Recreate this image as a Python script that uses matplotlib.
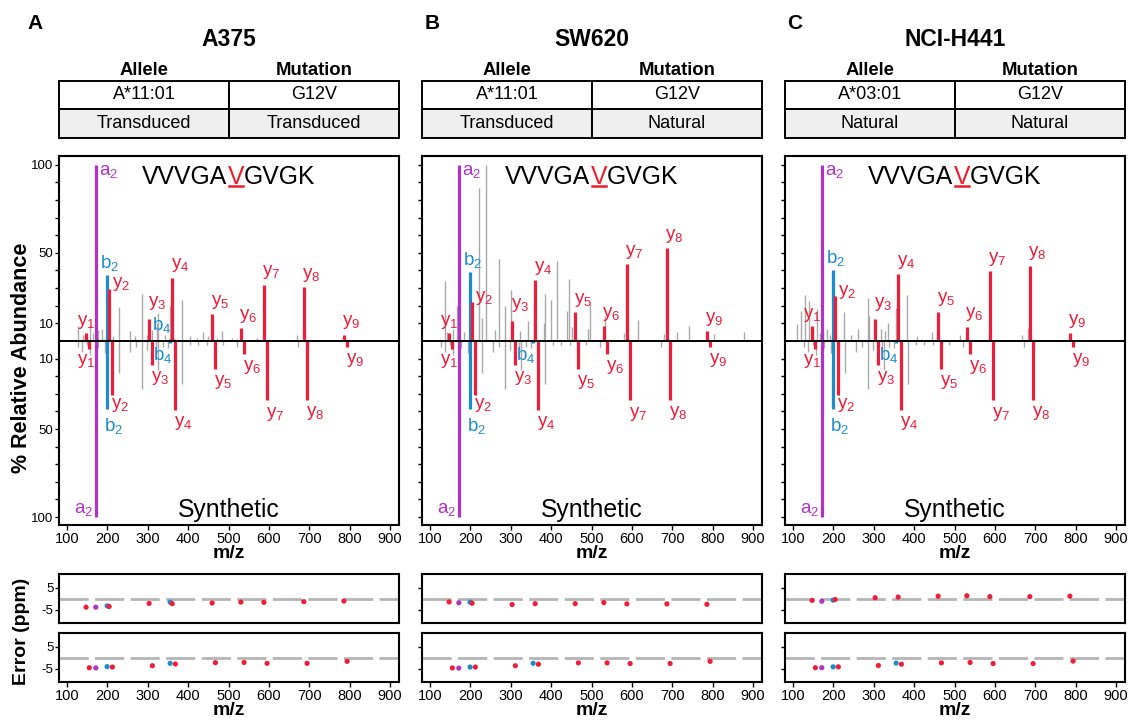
import numpy as np
import matplotlib
matplotlib.use("Agg")
import matplotlib.pyplot as plt
from matplotlib.lines import Line2D
from matplotlib.offsetbox import TextArea, HPacker, AnnotationBbox

plt.rcParams["font.family"] = ["Liberation Sans", "DejaVu Sans"]
plt.rcParams["mathtext.fontset"] = "custom"
plt.rcParams["mathtext.rm"] = "Liberation Sans"
plt.rcParams["mathtext.it"] = "Liberation Sans:italic"
plt.rcParams["mathtext.bf"] = "Liberation Sans:bold"
plt.rcParams["axes.unicode_minus"] = False

# ---- panel info ----
panel_letters = ["A", "B", "C"]
cell_lines = ["A375", "SW620", "NCI-H441"]
alleles = ["A*11:01", "A*11:01", "A*03:01"]
mutations = ["G12V", "G12V", "G12V"]
allele_source = ["Transduced", "Transduced", "Natural"]
mutation_source = ["Transduced", "Natural", "Natural"]
peptide = "VVVGAVGVGK"
mut_pos = 5

# ---- annotated fragment ions ----
ion_names = ["y1", "a2", "b2", "y2", "y3", "b4", "y4", "y5", "y6", "y7", "y8", "y9"]
ion_mz_endo = [147.113, 171.149, 199.144, 204.134, 303.203, 355.233,
               360.224, 459.293, 530.330, 587.351, 686.420, 785.488]
# synthetic peptide carries heavy lysine (+8 on y ions)
ion_mz_syn = [155.127, 171.149, 199.144, 212.148, 311.217, 355.233,
              368.238, 467.307, 538.344, 595.365, 694.434, 793.502]

int_a375 = [4.5, 100, 37.6, 29.7, 12.7, 1.2, 36.0, 15.1, 7.2, 32.0, 30.4, 3.6]
int_sw620 = [4.4, 100, 39.0, 22.2, 11.6, np.nan, 34.5, 16.3, 8.3, 43.5, 52.6, 5.5]
int_h441 = [8.7, 100, 40.3, 25.5, 12.5, np.nan, 37.8, 16.5, 8.0, 39.7, 42.6, 4.4]
int_syn = [4.7, 100, 38.4, 30.6, 13.4, 1.0, 39.0, 16.0, 7.6, 33.8, 33.6, 3.2]

# ---- unannotated peaks ----
gray_mz_a375 = [128.1, 140.5, 157.0, 163.6, 177.6, 185.9, 214.7, 228.8, 256.0, 268.4,
                284.9, 297.2, 309.6, 322.0, 326.1, 342.6, 355.8, 364.9, 385.5, 404.5,
                421.0, 437.5, 449.9, 470.5, 482.9, 507.6, 520.0, 569.5, 668.5, 688.5, 784.0]
gray_int_a375 = [8.3, 3.6, 9.3, 4.5, 6.4, 7.0, 2.6, 19.3, 5.9, 2.6,
                 26.8, 3.6, 6.4, 10.2, 15.9, 3.6, 19.7, 1.7, 23.4, 2.6,
                 1.7, 4.9, 2.6, 1.7, 5.5, 1.7, 1.3, 1.7, 3.6, 4.5, 1.7]

gray_mz_sw620 = [136.3, 141.0, 156.1, 166.9, 183.4, 222.2, 228.8, 238.7, 261.8, 270.8,
                 284.9, 299.7, 323.6, 342.6, 356.6, 381.4, 384.7, 399.5, 415.2, 439.2,
                 443.3, 451.5, 491.1, 496.9, 532.4, 579.4, 614.9, 678.4, 712.3, 741.9,
                 802.2, 876.4]
gray_int_sw620 = [34.3, 5.0, 6.5, 19.7, 4.9, 87.1, 13.1, 99.8, 6.1, 46.3,
                  19.7, 28.7, 5.5, 11.6, 22.6, 10.2, 26.4, 23.1, 45.2, 16.9,
                  34.9, 8.0, 6.5, 21.3, 14.0, 4.6, 11.8, 4.2, 4.9, 8.7,
                  4.2, 4.9]

gray_mz_h441 = [110.8, 119.8, 129.7, 140.5, 150.4, 158.6, 166.9, 175.1, 185.0, 191.6,
                227.1, 242.8, 261.8, 284.9, 289.0, 317.9, 327.8, 336.0, 355.0, 383.0,
                406.1, 443.3, 455.7, 513.4, 586.0, 666.0, 682.5]
gray_int_h441 = [9.9, 16.9, 26.2, 22.6, 6.5, 17.9, 4.4, 5.5, 6.8, 3.6,
                 16.5, 3.6, 6.5, 24.1, 14.1, 6.5, 5.5, 10.3, 18.8, 25.9,
                 2.7, 4.9, 4.9, 3.6, 6.1, 3.6, 7.4]

gray_mz_syn = [128.1, 136.3, 148.7, 157.0, 177.6, 194.1, 214.7, 228.8, 256.0, 270.8,
               284.9, 297.2, 320.3, 326.1, 338.5, 350.9, 385.5, 404.5, 425.1, 445.7,
               487.0, 520.0, 672.6, 697.4]
gray_int_syn = [3.2, 6.0, 2.3, 7.9, 4.2, 7.0, 3.2, 18.3, 6.0, 3.2,
                27.4, 5.1, 8.9, 16.4, 3.2, 4.2, 24.4, 2.3, 2.3, 2.3,
                2.3, 3.2, 3.2, 3.2]

# ---- mass errors (ppm) ----
err_a375 = [-3.8, -3.8, -3.2, -3.5, -2.1, -1.5, -2.2, -1.9, -1.5, -1.6, -1.3, -1.0]
err_sw620 = [-1.4, -1.8, -1.5, -2.0, -2.6, np.nan, -2.2, -2.2, -1.7, -2.3, -2.3, -2.5]
err_h441 = [-0.7, -1.1, -0.6, -0.3, 0.5, np.nan, 0.8, 1.2, 1.4, 1.0, 1.0, 1.2]
err_syn_a375 = [-4.5, -4.6, -4.0, -4.2, -3.6, -2.5, -2.8, -2.2, -2.1, -2.5, -2.5, -1.6]
err_syn_sw620 = [-4.6, -4.7, -4.2, -4.2, -3.6, -2.5, -2.9, -2.3, -2.3, -2.6, -2.6, -1.6]
err_syn_h441 = [-4.5, -4.5, -4.1, -4.1, -3.5, -2.4, -2.9, -2.3, -2.1, -2.6, -2.6, -1.5]

ion_colors = {"y": "#ee1d3a", "b": "#1b8dcf", "a": "#b232c8"}
gray = "#a9a9a9"
mut_color = "#ee1d2a"

# label offsets in points: (dx, dy, ha, va)
top_offsets = {"a2": (2, 1, "left", "top"), "b2": (-5, 1.5, "left", "bottom"),
               "y2": (2, 3, "left", "center"), "y1": (0, 1.5, "center", "bottom"),
               "y3": (-1, 4.5, "left", "bottom"), "b4": (1, 2.5, "right", "bottom")}
bot_offsets = {"a2": (-2, -1, "right", "bottom"), "y1": (-2, -2, "center", "top"),
               "b2": (-2, -5, "left", "top"), "b4": (2, -2, "right", "top"),
               "y2": (-1, -1, "left", "top")}
top_default = (-1, 2.5, "left", "bottom")
bot_default = (-1, -3, "left", "top")

endo_ints = [int_a375, int_sw620, int_h441]
gray_endo = [(gray_mz_a375, gray_int_a375), (gray_mz_sw620, gray_int_sw620),
             (gray_mz_h441, gray_int_h441)]
errs_endo = [err_a375, err_sw620, err_h441]
errs_syn = [err_syn_a375, err_syn_sw620, err_syn_h441]

W, H = 1130, 722
fig = plt.figure(figsize=(W / 100, H / 100), dpi=100)


def fx(px):
    return px / W


def fy(py):
    return 1 - py / H


def ion_label(name):
    return name[0] + r"$_\mathregular{" + name[1:] + "}$"


lefts = [59, 422, 785]
letter_x = [27, 425, 787]
ax_w = 340
mut_areas = []

for i in range(3):
    L = lefts[i]

    # ---- table ----
    axt = fig.add_axes([fx(L), fy(137.7), fx(ax_w), 57 / H])
    axt.axis("off")
    tbl = axt.table(cellText=[[alleles[i], mutations[i]],
                              [allele_source[i], mutation_source[i]]],
                    cellColours=[["white", "white"], ["#efefef", "#efefef"]],
                    cellLoc="center", bbox=[0, 0, 1, 1])
    tbl.auto_set_font_size(False)
    tbl.set_fontsize(13)
    for c in tbl.get_celld().values():
        c.set_linewidth(1.4)
    axt.text(0.25, 1.1, "Allele", ha="center", va="baseline", fontsize=13.3,
             fontweight="bold", transform=axt.transAxes)
    axt.text(0.75, 1.1, "Mutation", ha="center", va="baseline", fontsize=13.3,
             fontweight="bold", transform=axt.transAxes)
    axt.text(0.5, 1.6, cell_lines[i], ha="center", va="baseline", fontsize=16.5,
             fontweight="bold", transform=axt.transAxes)
    fig.text(fx(letter_x[i]), fy(29), panel_letters[i], ha="left", va="baseline",
             fontsize=15, fontweight="bold")

    # ---- mirror spectrum ----
    ax = fig.add_axes([fx(L), fy(525), fx(ax_w), 369 / H])
    gmz, gint = gray_endo[i]
    ax.vlines(gmz, 0, gint, color=gray, lw=1.0, zorder=1)
    ax.vlines(gray_mz_syn, 0, -np.array(gray_int_syn), color=gray, lw=1.0, zorder=1)
    ints = endo_ints[i]
    for name, mz, h in zip(ion_names, ion_mz_endo, ints):
        if np.isnan(h):
            continue
        col = ion_colors[name[0]]
        ax.vlines(mz, 0, h, color=col, lw=2.3, zorder=3)
        dx, dy, ha, va = top_offsets.get(name, top_default)
        ax.annotate(ion_label(name), (mz, h), xytext=(dx, dy), textcoords="offset points",
                    ha=ha, va=va, color=col, fontsize=13.5, zorder=4)
    for name, mz, h in zip(ion_names, ion_mz_syn, int_syn):
        col = ion_colors[name[0]]
        ax.vlines(mz, 0, -h, color=col, lw=2.3, zorder=3)
        dx, dy, ha, va = bot_offsets.get(name, bot_default)
        ax.annotate(ion_label(name), (mz, -h), xytext=(dx, dy), textcoords="offset points",
                    ha=ha, va=va, color=col, fontsize=13.5, zorder=4)
    ax.axhline(0, color="black", lw=1.4, zorder=5)
    ax.set_xlim(80, 922)
    ax.set_ylim(-104.5, 105)
    ax.set_xticks(range(100, 1000, 100))
    yt = [v for v in range(-100, 101, 10) if v != 0]
    ax.set_yticks(yt)
    if i == 0:
        ax.set_yticklabels([str(abs(v)) if abs(v) in (10, 50, 100) else "" for v in yt])
    else:
        ax.set_yticklabels([])
    ax.tick_params(axis="y", labelsize=9.5, length=3, width=1, pad=1)
    ax.tick_params(axis="x", labelsize=10.5, length=3.5, width=1, pad=1.5)
    ax.set_xlabel("m/z", fontsize=14, fontweight="bold", labelpad=-1)
    for s in ax.spines.values():
        s.set_linewidth(1.5)

    # peptide sequence with mutated residue (underline added after layout)
    parts = [TextArea(peptide[:mut_pos], textprops=dict(fontsize=17.8, color="black")),
             TextArea(peptide[mut_pos], textprops=dict(fontsize=17.8, color=mut_color)),
             TextArea(peptide[mut_pos + 1:], textprops=dict(fontsize=17.8, color="black"))]
    pack = HPacker(children=parts, align="baseline", pad=0, sep=0)
    ab = AnnotationBbox(pack, (0.5, 0.975), xycoords="axes fraction",
                        box_alignment=(0.5, 1), frameon=False, pad=0)
    ax.add_artist(ab)
    mut_areas.append(parts[1])
    ax.text(0.5, 0.022, "Synthetic", ha="center", va="baseline", fontsize=17.8,
            transform=ax.transAxes)

    # ---- mass error panels ----
    for k, (errs, mzs, top_px) in enumerate([(errs_endo[i], ion_mz_endo, 574),
                                             (errs_syn[i], ion_mz_syn, 633)]):
        axe = fig.add_axes([fx(L), fy(top_px + 49), fx(ax_w), 49 / H])
        axe.axhline(0, color="#b5b5b5", lw=2, linestyle=(0, (10.5, 2.3)), zorder=1)
        cols = [ion_colors[n[0]] for n in ion_names]
        axe.scatter(mzs, errs, c=cols, s=14, linewidths=0, zorder=3)
        axe.set_xlim(80, 922)
        axe.set_ylim(-11, 11.3)
        axe.set_yticks([-5, 5])
        axe.set_xticks(range(100, 1000, 100))
        if i == 0:
            axe.set_yticklabels(["-5", "5"])
        else:
            axe.set_yticklabels([])
        axe.tick_params(axis="y", labelsize=9.5, length=3, width=1, pad=1)
        if k == 0:
            axe.tick_params(axis="x", length=0, labelbottom=False)
        else:
            axe.tick_params(axis="x", labelsize=10.5, length=3.5, width=1, pad=1.5)
            axe.set_xlabel("m/z", fontsize=14, fontweight="bold", labelpad=-1)
        for s in axe.spines.values():
            s.set_linewidth(1.5)

fig.text(fx(22), fy(358), "% Relative Abundance", rotation=90, ha="center", va="center",
         fontsize=15.5, fontweight="bold")
fig.text(fx(22), fy(631), "Error (ppm)", rotation=90, ha="center", va="center",
         fontsize=14, fontweight="bold")

# underline the mutated residue
fig.canvas.draw()
for ta in mut_areas:
    bb = ta._text.get_window_extent()
    yline = bb.y0 + 3
    fig.add_artist(Line2D([fx(bb.x0 + 1), fx(bb.x1 - 1)], [yline / H, yline / H],
                          transform=fig.transFigure, color=mut_color, lw=1.8))

fig.savefig("out.png", dpi=100)
